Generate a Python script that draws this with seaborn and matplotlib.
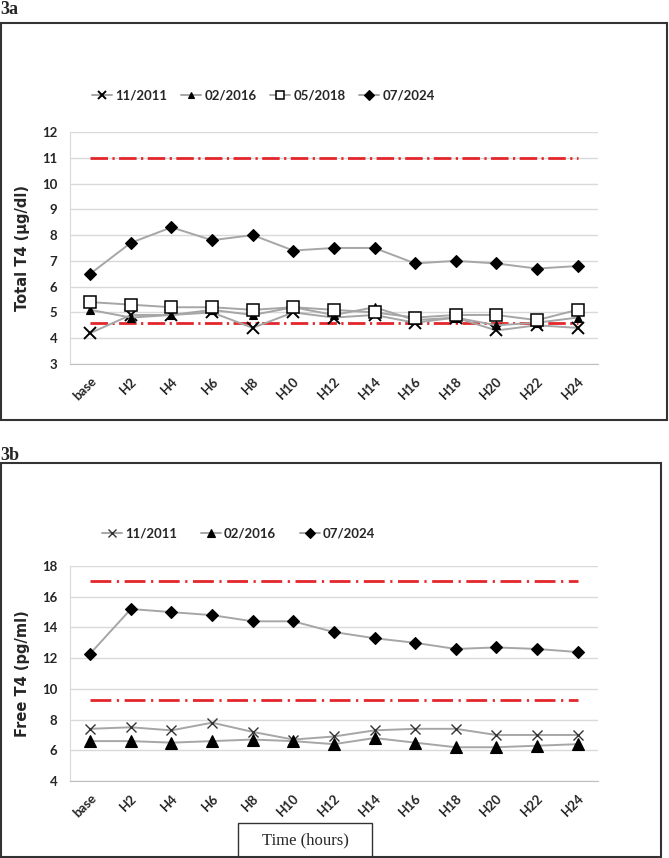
import numpy as np
import pandas as pd
import matplotlib
matplotlib.use("Agg")
import matplotlib.pyplot as plt
from matplotlib.patches import Rectangle
from matplotlib.lines import Line2D
import seaborn as sns

# time points
horas = ['base', 'H2', 'H4', 'H6', 'H8', 'H10', 'H12', 'H14', 'H16', 'H18', 'H20', 'H22', 'H24']

# 3a - total T4 (ug/dl)
tt4_2011 = [4.2, 4.9, 4.9, 5.0, 4.4, 5.0, 4.8, 4.9, 4.6, 4.8, 4.3, 4.5, 4.4]
tt4_2016 = [5.1, 4.8, 4.9, 5.1, 4.9, 5.2, 4.9, 5.2, 4.7, 4.8, 4.5, 4.6, 4.8]
tt4_2018 = [5.4, 5.3, 5.2, 5.2, 5.1, 5.2, 5.1, 5.0, 4.8, 4.9, 4.9, 4.7, 5.1]
tt4_2024 = [6.5, 7.7, 8.3, 7.8, 8.0, 7.4, 7.5, 7.5, 6.9, 7.0, 6.9, 6.7, 6.8]
tt4_ref = [4.6, 11.0]

# 3b - free T4 (pg/ml)
ft4_2011 = [7.4, 7.5, 7.3, 7.8, 7.2, 6.7, 6.9, 7.3, 7.4, 7.4, 7.0, 7.0, 7.0]
ft4_2016 = [6.6, 6.6, 6.5, 6.6, 6.7, 6.6, 6.4, 6.8, 6.5, 6.2, 6.2, 6.3, 6.4]
ft4_2024 = [12.3, 15.2, 15.0, 14.8, 14.4, 14.4, 13.7, 13.3, 13.0, 12.6, 12.7, 12.6, 12.4]
ft4_ref = [9.3, 17.0]

sns.set_style("white")
plt.rcParams['font.family'] = ['Lato', 'DejaVu Sans']

cinza = '#a6a6a6'
vermelho = '#e3262b'

fig = plt.figure(figsize=(6.69, 8.58), dpi=100)

# estilos dos marcadores por serie
estilo_a = {
    '11/2011': dict(marker='x', markersize=8, mew=1.4, mec='black', mfc='black'),
    '02/2016': dict(marker='^', markersize=5.5, mew=0.8, mec='black', mfc='black'),
    '05/2018': dict(marker='s', markersize=8, mew=1.1, mec='black', mfc='white'),
    '07/2024': dict(marker='D', markersize=6.5, mew=0.8, mec='black', mfc='black'),
}
estilo_b = {
    '11/2011': dict(marker='x', markersize=7, mew=1.0, mec='#333333', mfc='#333333'),
    '02/2016': dict(marker='^', markersize=8, mew=0.8, mec='black', mfc='black'),
    '07/2024': dict(marker='D', markersize=6.5, mew=0.8, mec='black', mfc='black'),
}


def painel(ax, series, estilos, ref, ylim, ystep, ylabel, dashes):
    x = np.arange(len(horas))
    for nome, vals in series.items():
        df = pd.DataFrame({'hora': x, 'valor': vals})
        sns.lineplot(data=df, x='hora', y='valor', ax=ax, color=cinza, lw=1.4,
                     **estilos[nome], zorder=3)
    for r in ref:
        ax.plot([0, len(horas) - 1], [r, r], color=vermelho, lw=2.0,
                dashes=dashes, zorder=2)
    ax.set_xlim(-0.5, len(horas) - 0.5)
    ax.set_ylim(*ylim)
    ax.set_yticks(np.arange(ylim[0], ylim[1] + 0.01, ystep))
    ax.set_xticks(x)
    ax.set_xticklabels(horas, rotation=45, ha='right', rotation_mode='anchor',
                       fontsize=9.5, fontweight='bold')
    for t in ax.get_yticklabels():
        t.set_fontsize(9.5)
        t.set_fontweight('bold')
    ax.tick_params(axis='both', length=0)
    ax.tick_params(axis='x', pad=8)
    ax.tick_params(axis='y', pad=9)
    ax.yaxis.grid(True, color='#d9d9d9', lw=1)
    ax.set_axisbelow(True)
    for s in ['top', 'right']:
        ax.spines[s].set_visible(False)
    ax.spines['left'].set_color('#d9d9d9')
    ax.spines['bottom'].set_color('#bfbfbf')
    ax.set_xlabel('')
    ax.set_ylabel(ylabel, fontsize=10.5, fontweight='bold', family='DejaVu Sans', labelpad=9)


def legenda(series, estilos, pos, colsp):
    handles = [Line2D([], [], color=cinza, lw=1.4, **estilos[n]) for n in series]
    fig.legend(handles, list(series.keys()), loc='center left', bbox_to_anchor=pos,
               ncol=len(handles), frameon=False, handlelength=1.5, handletextpad=0.25,
               markerscale=0.75, columnspacing=colsp,
               prop=dict(family='Lato', weight='bold', size=9.5))


# 3a
ax1 = fig.add_axes([0.1046, 0.5758, 0.789, 0.2704])
series_a = {'11/2011': tt4_2011, '02/2016': tt4_2016, '05/2018': tt4_2018, '07/2024': tt4_2024}
painel(ax1, series_a, estilo_a, tt4_ref, (3, 12), 1, 'Total T4 (µg/dl)', (6.3, 1.6, 0.8, 1.6))
legenda(series_a, estilo_a, (0.12, 0.889), 1.05)

# 3b
ax2 = fig.add_axes([0.1046, 0.0897, 0.789, 0.2506])
series_b = {'11/2011': ft4_2011, '02/2016': ft4_2016, '07/2024': ft4_2024}
painel(ax2, series_b, estilo_b, ft4_ref, (4, 18), 2, 'Free T4 (pg/ml)', (7.5, 2.0, 0.8, 2.0))
legenda(series_b, estilo_b, (0.135, 0.378), 1.8)

# molduras
fig.add_artist(Rectangle((0.0015, 0.5105), 0.9955, 0.4627, transform=fig.transFigure,
                         fill=False, lw=1.5, ec='#333333'))
fig.add_artist(Rectangle((0.0015, 0.0012), 0.9865, 0.4592, transform=fig.transFigure,
                         fill=False, lw=1.5, ec='#333333'))
fig.add_artist(Rectangle((0.3558, 0.0), 0.2003, 0.0408, transform=fig.transFigure,
                         fill=False, lw=1.0, ec='#333333'))

fig.text(0.0, 0.9985, '3a', family='Liberation Serif', fontweight='bold', fontsize=13, va='top')
fig.text(0.0, 0.4795, '3b', family='Liberation Serif', fontweight='bold', fontsize=13, va='top')
fig.text(0.456, 0.021, 'Time (hours)', family='Liberation Serif', fontsize=12,
         ha='center', va='center')

fig.savefig('out.png', dpi=100)
